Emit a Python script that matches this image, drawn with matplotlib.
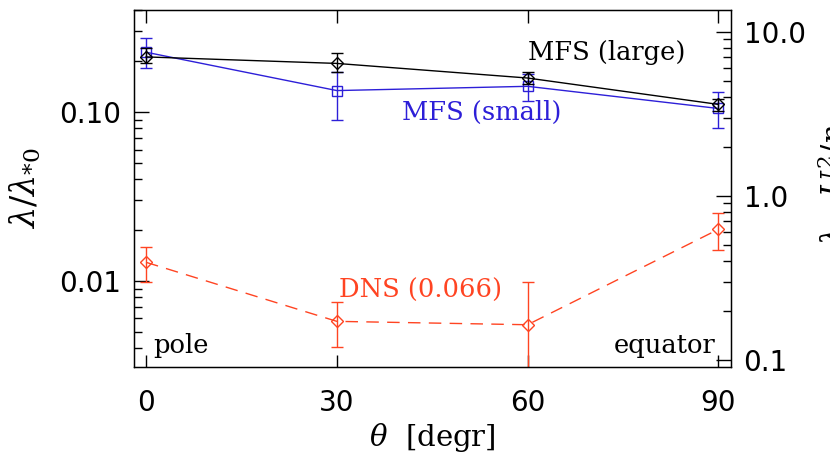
import matplotlib
matplotlib.use("Agg")
import matplotlib.pyplot as plt
import numpy as np
from matplotlib.ticker import FixedLocator, FixedFormatter, LogLocator, NullFormatter

plt.rcParams['font.family'] = ['DejaVu Sans']
plt.rcParams['mathtext.fontset'] = 'dejavuserif'

# ---- data ----
theta = [0, 30, 60, 90]

mfs_large = [0.212, 0.194, 0.159, 0.111]
mfs_large_lo = [0.195, 0.172, 0.147, 0.101]
mfs_large_hi = [0.240, 0.223, 0.172, 0.119]

mfs_small = [0.226, 0.134, 0.142, 0.105]
mfs_small_lo = [0.182, 0.090, 0.116, 0.081]
mfs_small_hi = [0.273, 0.172, 0.168, 0.131]

dns = [0.0129, 0.00577, 0.00551, 0.0202]
dns_lo = [0.0099, 0.00408, 0.001, 0.0153]
dns_hi = [0.0160, 0.00756, 0.0099, 0.0252]

x_ticks = [0, 30, 60, 90]
left_ticks = [0.01, 0.10]
left_ticklabels = ['0.01', '0.10']
right_ticks = [0.1, 1.0, 10.0]
right_ticklabels = ['0.1', '1.0', '10.0']

black = '#000000'
blue = '#2d1fd8'
red = '#ff4422'

fig = plt.figure(figsize=(8.30, 4.61), dpi=100)
ax = fig.add_axes([134/830, 1-367/461, (731-134)/830, (367-10)/461])

def err(y, lo, hi):
    y = np.array(y); lo = np.array(lo); hi = np.array(hi)
    return [y - lo, hi - y]

ax.errorbar(theta, mfs_large, yerr=err(mfs_large, mfs_large_lo, mfs_large_hi),
            color=black, lw=1.0, marker='D', ms=6.5, mfc='none', mec=black,
            mew=1.0, capsize=4, elinewidth=1.0, capthick=1.0, zorder=3)
ax.errorbar(theta, mfs_small, yerr=err(mfs_small, mfs_small_lo, mfs_small_hi),
            color=blue, lw=1.0, marker='s', ms=7.5, mfc='none', mec=blue,
            mew=1.0, capsize=4, elinewidth=1.0, capthick=1.0, zorder=2)
ax.errorbar(theta, dns, yerr=err(dns, dns_lo, dns_hi),
            color=red, lw=1.0, ls=(0, (9, 6)), marker='D', ms=6.5, mfc='none', mec=red,
            mew=1.0, capsize=4, elinewidth=1.0, capthick=1.0, zorder=2)

ax.set_yscale('log')
ax.set_xlim(-1.9, 92.0)
ax.set_ylim(10**(-2.509), 10**(-0.396))

ax.xaxis.set_major_locator(FixedLocator(x_ticks))
ax.set_xticklabels([str(t) for t in x_ticks])
ax.yaxis.set_major_locator(FixedLocator(left_ticks))
ax.yaxis.set_major_formatter(FixedFormatter(left_ticklabels))
ax.yaxis.set_minor_locator(LogLocator(base=10, subs=np.arange(2, 10)))
ax.yaxis.set_minor_formatter(NullFormatter())

ax.tick_params(axis='x', which='both', direction='in', top=True, bottom=True,
               length=9, width=1.0, labelsize=20, pad=16)
ax.tick_params(axis='x', which='minor', bottom=False, top=False)
ax.tick_params(axis='y', which='major', direction='in', left=True, right=False,
               length=11, width=1.0, labelsize=20, pad=9)
ax.tick_params(axis='y', which='minor', direction='in', left=True, right=False,
               length=6, width=1.0)
for s in ax.spines.values():
    s.set_linewidth(1.0)

ax.set_xlabel(r'$\theta$  [degr]', fontsize=21, family='DejaVu Serif', labelpad=3)
ax.set_ylabel(r'$\lambda/\lambda_{*0}$', fontsize=24, labelpad=12)

ax2 = ax.twinx()
ax2.set_yscale('log')
ax2.set_ylim(10**(-1.043), 10**(1.134))
ax2.yaxis.set_major_locator(FixedLocator(right_ticks))
ax2.yaxis.set_major_formatter(FixedFormatter(right_ticklabels))
ax2.yaxis.set_minor_locator(LogLocator(base=10, subs=np.arange(2, 10)))
ax2.yaxis.set_minor_formatter(NullFormatter())
ax2.tick_params(axis='y', which='major', direction='in', right=True, left=False,
                length=11, width=1.0, labelsize=20, pad=9)
ax2.tick_params(axis='y', which='minor', direction='in', right=True, left=False,
                length=6, width=1.0)

fig.text(834/830, 1-175/461, r'$\lambda_{*0}\,U^2/\eta_{\rm t0}$', rotation=90,
         ha='center', va='center', fontsize=22)

tfont = dict(family='DejaVu Serif', fontsize=18.5)
ax.text(60.0, 10**(-1 + (112-52)/169), 'MFS (large)', color=black, ha='left', va='center', **tfont)
ax.text(40.3, 10**(-1 + (112-112)/169), 'MFS (small)', color=blue, ha='left', va='center', **tfont)
ax.text(30.3, 10**(-2 + (281-290)/169), 'DNS (0.066)', color=red, ha='left', va='center', **tfont)
ax.text(1.2, 10**(-2 + (281-346)/169), 'pole', color=black, ha='left', va='center', **tfont)
ax.text(89.6, 10**(-2 + (281-346)/169), 'equator', color=black, ha='right', va='center', **tfont)

fig.savefig('out.png', dpi=100)
